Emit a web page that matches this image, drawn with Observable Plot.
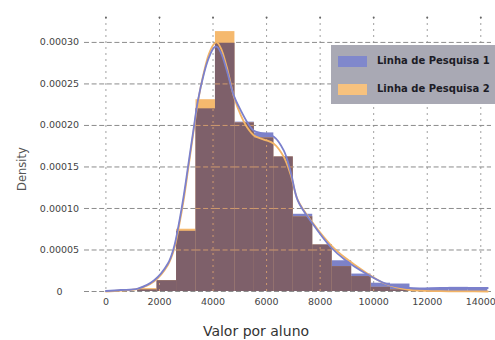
<!DOCTYPE html>
<html><head><meta charset="utf-8">
<script src="https://cdn.jsdelivr.net/npm/d3@7"></script>
<script src="https://cdn.jsdelivr.net/npm/@observablehq/plot@0.6"></script>
<style>
body{margin:0;background:#fff;}
#wrap{position:relative;width:495px;height:340px;overflow:hidden;font-family:"DejaVu Sans",sans-serif;}
#wrap svg{position:absolute;left:0;top:0;}
.xlabel{position:absolute;left:156px;width:200px;text-align:center;top:323px;font-size:14px;color:#333;line-height:16px;}
.ylabel{position:absolute;left:-28px;top:162px;width:100px;text-align:center;font-size:11.5px;color:#555;line-height:14px;transform:rotate(-90deg);}
.legend{position:absolute;left:331px;top:45px;width:170px;height:59px;background:#a9a9b4;}
.sw{position:absolute;left:7px;width:29px;height:11px;}
.lt{position:absolute;left:46px;height:11px;line-height:11px;font-size:10px;font-weight:bold;color:#1c1c26;white-space:nowrap;}
</style></head><body><div id="wrap"></div>
<script>
const seriesNames = ["Linha de Pesquisa 1", "Linha de Pesquisa 2"];
const seriesColors = ["#7d82c8", "#f5b96e"];
const overlapColor = "#7e606a";
const binStart = 1185, binWidth = 726.5;
const series1Density = [2e-6, 1.3e-5, 7.25e-5, 2.2e-4, 2.99e-4, 2.04e-4, 1.91e-4, 1.62e-4, 9.3e-5, 5.6e-5, 3.7e-5, 2.1e-5, 1.0e-5, 9e-6, 3.5e-6, 3e-6, 5e-6, 3e-6];
const series2Density = [3.5e-6, 1.3e-5, 7.5e-5, 2.31e-4, 3.13e-4, 2.03e-4, 1.85e-4, 1.62e-4, 9.0e-5, 5.6e-5, 3.0e-5, 1.8e-5, 5e-6, 2e-6, 0, 0, 0, 0];
const kdeX = [0, 560, 1195, 1792, 2315, 2538, 2725, 2912, 3061, 3248, 3435, 3659, 3845, 4032, 4144, 4293, 4517, 4778, 5040, 5264, 5525, 5898, 6271, 6645, 6906, 7167, 7716, 8400, 8960, 9706, 10452, 11311, 12500, 13400, 14260];
const kde1 = [6e-7, 1.8e-6, 3.6e-6, 1.32e-5, 3.37e-5, 5.29e-5, 8.18e-5, 1.167e-4, 1.492e-4, 1.901e-4, 2.298e-4, 2.623e-4, 2.816e-4, 2.936e-4, 2.948e-4, 2.876e-4, 2.66e-4, 2.359e-4, 2.178e-4, 2.046e-4, 1.937e-4, 1.901e-4, 1.864e-4, 1.696e-4, 1.432e-4, 1.095e-4, 8.18e-5, 5.33e-5, 3.73e-5, 2.17e-5, 9.6e-6, 4.2e-6, 4.2e-6, 4.2e-6, 4.2e-6];
const kde2 = [0, 1.2e-6, 3.2e-6, 1.2e-5, 3.2e-5, 5.0e-5, 7.8e-5, 1.12e-4, 1.45e-4, 1.87e-4, 2.28e-4, 2.64e-4, 2.86e-4, 2.98e-4, 3.0e-4, 2.93e-4, 2.7e-4, 2.35e-4, 2.12e-4, 1.98e-4, 1.88e-4, 1.83e-4, 1.78e-4, 1.62e-4, 1.40e-4, 1.10e-4, 8.3e-5, 5.6e-5, 4.0e-5, 2.3e-5, 9e-6, 2e-6, 4e-7, 1e-7, 0];
const xTicks = [0, 2000, 4000, 6000, 8000, 10000, 12000, 14000];
const yTicks = [0, 0.00005, 0.0001, 0.00015, 0.0002, 0.00025, 0.0003];
const yTickLabels = ["0", "0.00005", "0.00010", "0.00015", "0.00020", "0.00025", "0.00030"];

const bins = series1Density.map((s1, i) => ({
  x1: binStart + i * binWidth, x2: binStart + (i + 1) * binWidth,
  s1, s2: series2Density[i], lo: Math.min(s1, series2Density[i])
}));
const kde = kdeX.map((x, i) => ({x, k1: kde1[i], k2: kde2[i]}));
const hSegs = [];
yTicks.filter(t => t > 0).forEach(t => bins.forEach(b => { if (b.lo > t) hSegs.push({y: t, x1: b.x1, x2: b.x2}); }));
const vSegs = xTicks.map(t => { const b = bins.find(b => t >= b.x1 && t < b.x2); return b ? {x: t, y2: b.lo} : null; }).filter(Boolean);

const chart = Plot.plot({
  width: 495, height: 340,
  marginTop: 17, marginBottom: 49, marginLeft: 84, marginRight: 4,
  x: {domain: [-800, 14400], axis: null},
  y: {domain: [0, 0.00033], axis: null},
  style: {background: "transparent", fontFamily: "DejaVu Sans", fontSize: "9.5px"},
  marks: [
    Plot.ruleX(xTicks, {x: d => d, stroke: "#a0a0a0", strokeDasharray: "2,4"}),
    Plot.ruleY(yTicks, {y: d => d, stroke: "#8c8c8c", strokeDasharray: "5,2.6"}),
    Plot.dot(xTicks, {x: d => d, frameAnchor: "top", r: 1, fill: "#666"}),
    Plot.rect(bins, {x1: "x1", x2: "x2", y1: 0, y2: "s1", fill: seriesColors[0]}),
    Plot.rect(bins, {x1: "x1", x2: "x2", y1: 0, y2: "s2", fill: seriesColors[1]}),
    Plot.rect(bins, {x1: "x1", x2: "x2", y1: 0, y2: "lo", fill: overlapColor}),
    Plot.ruleY(hSegs, {y: "y", x1: "x1", x2: "x2", stroke: "#d09a6e", strokeDasharray: "5,2.6"}),
    Plot.ruleX(vSegs, {x: "x", y1: 0, y2: "y2", stroke: "#d09a6e", strokeDasharray: "2,4"}),
    Plot.line(kde, {x: "x", y: "k2", stroke: "#f3b466", strokeWidth: 1.8, curve: "catmull-rom"}),
    Plot.line(kde, {x: "x", y: "k1", stroke: "#7b80cc", strokeWidth: 1.8, curve: "catmull-rom"}),
    Plot.text(xTicks, {x: d => d, frameAnchor: "bottom", dy: 13, text: d => String(d), fill: "#444"}),
    Plot.text(yTicks, {y: d => d, frameAnchor: "left", dx: -25, text: (d, i) => yTickLabels[i], fill: "#444", textAnchor: "middle"})
  ]
});
const wrap = document.getElementById("wrap");
wrap.appendChild(chart);
const xl = document.createElement("div"); xl.className = "xlabel"; xl.textContent = "Valor por aluno"; wrap.appendChild(xl);
const yl = document.createElement("div"); yl.className = "ylabel"; yl.textContent = "Density"; wrap.appendChild(yl);
const lg = document.createElement("div"); lg.className = "legend";
seriesNames.forEach((name, i) => {
  const sw = document.createElement("div"); sw.className = "sw"; sw.style.top = (11 + i * 28) + "px";
  sw.style.background = i === 0 ? "#8088cc" : "#f7c27e"; lg.appendChild(sw);
  const t = document.createElement("div"); t.className = "lt"; t.style.top = (10 + i * 28) + "px"; t.textContent = name; lg.appendChild(t);
});
wrap.appendChild(lg);
</script></body></html>
